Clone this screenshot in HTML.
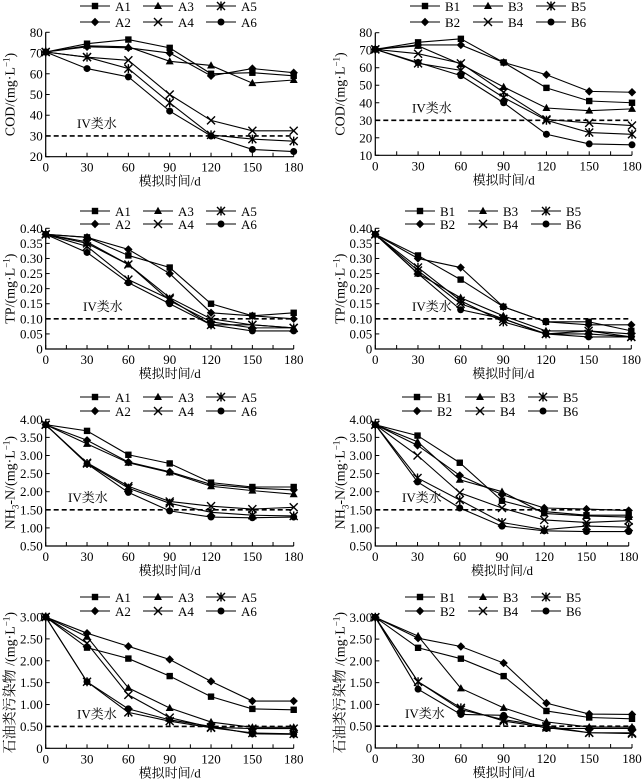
<!DOCTYPE html>
<html><head><meta charset="utf-8">
<style>
html,body{margin:0;padding:0;background:#fff;}
svg{display:block;}
text{font-family:"Liberation Serif","Noto Serif CJK SC","Noto Sans CJK SC",serif;fill:#000;}
</style></head>
<body>
<svg id="fig" width="644" height="780" viewBox="0 0 644 780"></svg>
<script>
const days = [0,30,60,90,120,150,180];
const xTicks = ["0","30","60","90","120","150","180"];
// COD A
const codA1=[70.5,74.5,76.5,72.5,60,60.5,59];
const codA2=[70.5,73,72.5,70,59,62.5,60.5];
const codA3=[70.5,73.5,73,66,64,55.5,57];
const codA4=[70.5,68,66.5,50,37.5,32.5,32.5];
const codA5=[70.5,68,62.5,46,30.5,28.5,27.5];
const codA6=[70.5,62.5,58.5,42,30,23.5,22.5];
// COD B
const codB1=[70.5,74.5,76.5,63,48.5,41,40];
const codB2=[70.5,73,73,63,56,46.5,46];
const codB3=[70.5,72.5,62,49,37,35.5,36.5];
const codB4=[70.5,68,62.5,46,30.5,28.5,27];
const codB5=[70.5,62.5,58.5,43,30,23,22];
const codB6=[70.5,63,55.5,40,22,16.5,16];
// TP A
const tpA1=[0.38,0.37,0.31,0.27,0.15,0.11,0.12];
const tpA2=[0.38,0.37,0.33,0.25,0.12,0.11,0.10];
const tpA3=[0.38,0.355,0.28,0.16,0.09,0.07,0.07];
const tpA4=[0.38,0.35,0.28,0.17,0.10,0.08,0.07];
const tpA5=[0.38,0.34,0.23,0.165,0.08,0.08,0.07];
const tpA6=[0.38,0.32,0.22,0.15,0.08,0.06,0.06];
// TP B
const tpB1=[0.38,0.31,0.23,0.14,0.09,0.09,0.06];
const tpB2=[0.38,0.30,0.27,0.14,0.09,0.08,0.08];
const tpB3=[0.38,0.25,0.17,0.11,0.06,0.06,0.05];
const tpB4=[0.38,0.26,0.15,0.10,0.05,0.06,0.04];
const tpB5=[0.38,0.27,0.16,0.09,0.05,0.05,0.04];
const tpB6=[0.38,0.25,0.13,0.10,0.05,0.04,0.04];
// NH3-N A
const nhA1=[3.85,3.68,3.02,2.78,2.25,2.13,2.13];
const nhA2=[3.85,3.42,2.82,2.55,2.2,2.1,2.05];
const nhA3=[3.85,3.32,2.8,2.53,2.15,2.03,1.93];
const nhA4=[3.85,2.8,2.15,1.73,1.6,1.52,1.57];
const nhA5=[3.85,2.78,2.1,1.68,1.43,1.35,1.33];
const nhA6=[3.85,2.77,1.98,1.47,1.3,1.28,1.3];
// NH3-N B
const nhB1=[3.85,3.55,2.8,1.75,1.45,1.35,1.35];
const nhB2=[3.85,3.28,2.45,1.92,1.55,1.52,1.48];
const nhB3=[3.85,3.38,2.33,2.0,1.4,1.33,1.3];
const nhB4=[3.85,3.0,1.97,1.55,1.22,1.15,1.2];
const nhB5=[3.85,2.38,1.77,1.15,0.95,1.05,1.02];
const nhB6=[3.85,2.27,1.55,1.05,0.92,0.9,0.9];
// Oil A
const oilA1=[3,2.3,2.05,1.65,1.18,0.9,0.88];
const oilA2=[3,2.63,2.33,2.03,1.53,1.08,1.08];
const oilA3=[3,2.55,1.38,0.92,0.6,0.48,0.48];
const oilA4=[3,2.4,1.22,0.7,0.48,0.45,0.45];
const oilA5=[3,1.52,0.82,0.62,0.47,0.35,0.33];
const oilA6=[3,1.52,0.9,0.65,0.5,0.33,0.32];
// Oil B
const oilB1=[3,2.3,2.05,1.65,0.85,0.7,0.67];
const oilB2=[3,2.52,2.33,1.95,1.03,0.78,0.77];
const oilB3=[3,2.57,1.37,0.92,0.6,0.48,0.48];
const oilB4=[3,1.52,0.88,0.65,0.5,0.35,0.35];
const oilB5=[3,1.52,0.92,0.62,0.47,0.35,0.33];
const oilB6=[3,1.35,0.77,0.75,0.45,0.45,0.45];

const codTicksA=["20","30","40","50","60","70","80"];
const codTicksB=["10","20","30","40","50","60","70","80"];
const tpTicks=["0","0.05","0.10","0.15","0.20","0.25","0.30","0.35","0.40"];
const nhTicks=["0.50","1.00","1.50","2.00","2.50","3.00","3.50","4.00"];
const oilTicks=["0","0.50","1.00","1.50","2.00","2.50","3.00"];
const codLimit=30, tpLimit=0.10, nhLimit=1.50, oilLimit=0.50;

const NS="http://www.w3.org/2000/svg";
const fig=document.getElementById('fig');
function mk(tag,attrs,parent){const e=document.createElementNS(NS,tag);for(const k in attrs)e.setAttribute(k,attrs[k]);(parent||fig).appendChild(e);return e;}

function marker(g,type,x,y){
  let e;
  if(type===1){e=mk('rect',{x:x-3.2,y:y-3.2,width:6.4,height:6.4,fill:'#000'},g);}
  else if(type===2){e=mk('polygon',{points:`${x},${y-4.2} ${x+4.2},${y} ${x},${y+4.2} ${x-4.2},${y}`,fill:'#000'},g);}
  else if(type===3){e=mk('polygon',{points:`${x},${y-4.2} ${x+4},${y+3} ${x-4},${y+3}`,fill:'#000'},g);}
  else if(type===4){e=mk('path',{d:`M${x-4},${y-4}L${x+4},${y+4}M${x-4},${y+4}L${x+4},${y-4}`,stroke:'#000','stroke-width':1.4,fill:'none'},g);}
  else if(type===5){e=mk('path',{d:`M${x-4},${y-4}L${x+4},${y+4}M${x-4},${y+4}L${x+4},${y-4}M${x},${y-4.5}L${x},${y+4.5}`,stroke:'#000','stroke-width':1.4,fill:'none'},g);}
  else {e=mk('circle',{cx:x,cy:y,r:3.5,fill:'#000'},g);}
  return e;
}

function panel(cfg){
  const g=mk('g',{});
  
  
  const X=d=>cfg.x0+(d-0)/180*(cfg.x1-cfg.x0);
  const Y=v=>cfg.yb+(v-cfg.ymin)/(cfg.ymax-cfg.ymin)*(cfg.yt-cfg.yb);
  const ax=mk('path',{d:`M${cfg.x0},${cfg.yt}L${cfg.x0},${cfg.yb}L${cfg.x1},${cfg.yb}`,stroke:'#000','stroke-width':1.2,fill:'none'},g);
  
  
  for(let d=0;d<=180;d+=15){
    const xx=X(d);
    mk('line',{x1:xx,y1:cfg.yb,x2:xx,y2:cfg.yb-4,stroke:'#000','stroke-width':1},g);
  }
  days.forEach((d,i)=>{
    const t=mk('text',{x:X(d),y:cfg.yb+15,'text-anchor':'middle','font-size':13},g);
    t.textContent=xTicks[i];
    
    
  });
  cfg.ticks.forEach(s=>{
    const v=parseFloat(s),yy=Y(v);
    mk('line',{x1:cfg.x0,y1:yy,x2:cfg.x0+4,y2:yy,stroke:'#000','stroke-width':1},g);
    const t=mk('text',{x:cfg.x0-3,y:yy+4.5,'text-anchor':'end','font-size':13},g);
    t.textContent=s;
    
    
  });
  const xt=mk('text',{x:(cfg.x0+cfg.x1)/2,y:cfg.yb+29,'text-anchor':'middle','font-size':13},g);
  xt.textContent='模拟时间/d';
  
  
  const ycx=cfg.x0-31, ycy=(cfg.yt+cfg.yb)/2;
  const yt=mk('text',{x:ycx,y:ycy,'text-anchor':'middle','font-size':14,transform:`rotate(-90 ${ycx} ${ycy})`},g);
  yt.innerHTML=cfg.ytitle;
  
  
  const ll=mk('line',{x1:cfg.x0,y1:Y(cfg.limit),x2:cfg.x1,y2:Y(cfg.limit),stroke:'#000','stroke-width':1.6,'stroke-dasharray':'5,3'},g);
  
  
  const lt=mk('text',{x:cfg.lblx,y:Y(cfg.limit)-8,'font-size':13},g);
  lt.textContent='IV类水';
  
  
  cfg.series.forEach((s,i)=>{
    const sg=mk('g',{},g);
    
    
    const pts=s.map((v,j)=>X(days[j])+','+Y(v)).join(' ');
    mk('polyline',{points:pts,fill:'none',stroke:'#000','stroke-width':1.1},sg);
    s.forEach((v,j)=>marker(sg,i+1,X(days[j]),Y(v)));
  });
  const order=[[1,3,5],[2,4,6]];
  order.forEach((row,r)=>row.forEach((k,c)=>{
    const lg=mk('g',{},g);
    
    
    const lx=cfg.legx+c*63, ly=cfg.top+cfg.legy[r];
    mk('line',{x1:lx,y1:ly,x2:lx+30,y2:ly,stroke:'#000','stroke-width':1.1},lg);
    marker(lg,k,lx+15,ly);
    const t=mk('text',{x:lx+35,y:ly+5,'font-size':13},lg);
    t.textContent=cfg.prefix+k;
  }));
}

const L={x0:45.7,x1:293.7}, R={x0:375.3,x1:632};
panel({name:'cod-a-chart',prefix:'A',top:0,x0:L.x0,x1:L.x1,yt:32.3,yb:156.7,ymin:20,ymax:80,ticks:codTicksA,limit:codLimit,lblx:77,legx:80,legy:[6,22],ytitle:'COD/(mg·L<tspan dy="-5" font-size="9">−1</tspan><tspan dy="5">)</tspan>',series:[codA1,codA2,codA3,codA4,codA5,codA6]});
panel({name:'cod-b-chart',prefix:'B',top:0,x0:R.x0,x1:R.x1,yt:32.7,yb:155.3,ymin:10,ymax:80,ticks:codTicksB,limit:codLimit,lblx:412,legx:410,legy:[6,22],ytitle:'COD/(mg·L<tspan dy="-5" font-size="9">−1</tspan><tspan dy="5">)</tspan>',series:[codB1,codB2,codB3,codB4,codB5,codB6]});
panel({name:'tp-a-chart',prefix:'A',top:195,x0:L.x0,x1:L.x1,yt:228.3,yb:349,ymin:0,ymax:0.40,ticks:tpTicks,limit:tpLimit,lblx:83,legx:80,legy:[16,29],ytitle:'TP/(mg·L<tspan dy="-5" font-size="9">−1</tspan><tspan dy="5">)</tspan>',series:[tpA1,tpA2,tpA3,tpA4,tpA5,tpA6]});
panel({name:'tp-b-chart',prefix:'B',top:195,x0:R.x0,x1:631.3,yt:228.3,yb:349,ymin:0,ymax:0.40,ticks:tpTicks,limit:tpLimit,lblx:412,legx:405,legy:[16,29],ytitle:'TP/(mg·L<tspan dy="-5" font-size="9">−1</tspan><tspan dy="5">)</tspan>',series:[tpB1,tpB2,tpB3,tpB4,tpB5,tpB6]});
panel({name:'nh3n-a-chart',prefix:'A',top:390,x0:L.x0,x1:L.x1,yt:419.3,yb:546,ymin:0.5,ymax:4.0,ticks:nhTicks,limit:nhLimit,lblx:68,legx:80,legy:[7,21],ytitle:'NH<tspan dy="4" font-size="9">3</tspan><tspan dy="-4">-N/(mg·L</tspan><tspan dy="-5" font-size="9">−1</tspan><tspan dy="5">)</tspan>',series:[nhA1,nhA2,nhA3,nhA4,nhA5,nhA6]});
panel({name:'nh3n-b-chart',prefix:'B',top:390,x0:R.x0,x1:628.7,yt:419.3,yb:546,ymin:0.5,ymax:4.0,ticks:nhTicks,limit:nhLimit,lblx:402,legx:402,legy:[7,21],ytitle:'NH<tspan dy="4" font-size="9">3</tspan><tspan dy="-4">-N/(mg·L</tspan><tspan dy="-5" font-size="9">−1</tspan><tspan dy="5">)</tspan>',series:[nhB1,nhB2,nhB3,nhB4,nhB5,nhB6]});
panel({name:'oil-a-chart',prefix:'A',top:585,x0:L.x0,x1:L.x1,yt:617,yb:748.3,ymin:0,ymax:3.0,ticks:oilTicks,limit:oilLimit,lblx:77,legx:80,legy:[12,26],ytitle:'石油类污染物 /(mg·L<tspan dy="-5" font-size="9">−1</tspan><tspan dy="5">)</tspan>',series:[oilA1,oilA2,oilA3,oilA4,oilA5,oilA6]});
panel({name:'oil-b-chart',prefix:'B',top:585,x0:R.x0,x1:R.x1,yt:617.3,yb:748,ymin:0,ymax:3.0,ticks:oilTicks,limit:oilLimit,lblx:405,legx:405,legy:[12,26],ytitle:'石油类污染物 /(mg·L<tspan dy="-5" font-size="9">−1</tspan><tspan dy="5">)</tspan>',series:[oilB1,oilB2,oilB3,oilB4,oilB5,oilB6]});
</script>
</body></html>
